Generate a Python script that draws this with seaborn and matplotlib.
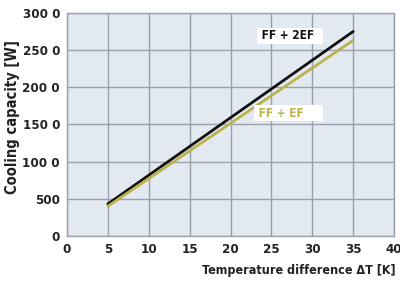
import matplotlib
matplotlib.use("Agg")
import matplotlib.pyplot as plt
import pandas as pd
import seaborn as sns

# data
delta_t = [5, 35]
ff_2ef = [430, 2750]
ff_ef = [400, 2630]

x_ticks = [0, 5, 10, 15, 20, 25, 30, 35, 40]
y_ticks = [0, 500, 1000, 1500, 2000, 2500, 3000]
y_tick_labels = ["0", "500", "100 0", "150 0", "200 0", "250 0", "300 0"]

BLACK = "#111111"
OLIVE = "#bdb24a"
GRID = "#9aa1aa"

sns.set_style("white")
plt.rcParams["font.family"] = ["DejaVu Sans"]
plt.rcParams["font.stretch"] = "condensed"

df = pd.DataFrame({
    "dT": delta_t * 2,
    "P": ff_2ef + ff_ef,
    "series": ["FF + 2EF"] * 2 + ["FF + EF"] * 2,
})

fig = plt.figure(figsize=(4.0, 2.87), dpi=100)
ax = fig.add_axes([0.1675, 0.178, 0.8175, 0.777])
ax.set_facecolor("#e3e9f0")

sns.lineplot(data=df, x="dT", y="P", hue="series",
             palette={"FF + 2EF": BLACK, "FF + EF": OLIVE},
             linewidth=2, legend=False, ax=ax)

ax.set_xlim(0, 40)
ax.set_ylim(0, 3000)
ax.set_xticks(x_ticks)
ax.set_yticks(y_ticks)
ax.set_yticklabels(y_tick_labels)
ax.tick_params(length=0, labelsize=9.5, pad=5)
for lbl in ax.get_xticklabels() + ax.get_yticklabels():
    lbl.set_fontweight("bold")
    lbl.set_color("#222222")

ax.grid(True, color=GRID, linewidth=1)
ax.set_axisbelow(True)
for sp in ax.spines.values():
    sp.set_color(GRID)
    sp.set_linewidth(1)

ax.set_xlabel("Temperature difference \u0394T [K]", fontsize=9,
              fontweight="bold", color="#222222", ha="right")
ax.set_ylabel("Cooling capacity [W]", fontsize=10.5,
              fontweight="bold", color="#222222")
ax.xaxis.set_label_coords(1.005, -0.125)
ax.yaxis.set_label_coords(-0.144, 0.534)

ax.text(23.4, 2690, " FF + 2EF  ", fontsize=8.5, fontweight="bold", color=BLACK,
        ha="left", va="center",
        bbox=dict(facecolor="white", edgecolor="none", pad=1.0))
ax.text(23.0, 1650, " FF + EF     ", fontsize=8.5, fontweight="bold", color=OLIVE,
        ha="left", va="center",
        bbox=dict(facecolor="white", edgecolor="none", pad=1.0))

fig.savefig("out.png", dpi=100)
